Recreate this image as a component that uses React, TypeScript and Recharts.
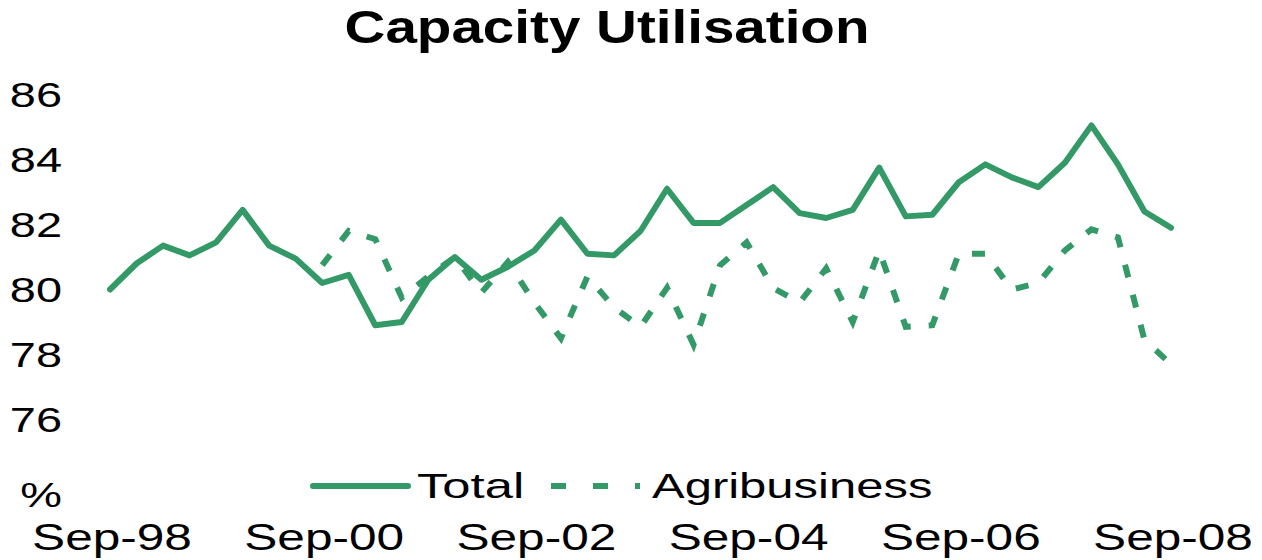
import React from "react";
import { LineChart, Line, XAxis, YAxis } from "recharts";

const categories = [
  "Sep-98", "Dec-98", "Mar-99", "Jun-99", "Sep-99", "Dec-99", "Mar-00", "Jun-00",
  "Sep-00", "Dec-00", "Mar-01", "Jun-01", "Sep-01", "Dec-01", "Mar-02", "Jun-02",
  "Sep-02", "Dec-02", "Mar-03", "Jun-03", "Sep-03", "Dec-03", "Mar-04", "Jun-04",
  "Sep-04", "Dec-04", "Mar-05", "Jun-05", "Sep-05", "Dec-05", "Mar-06", "Jun-06",
  "Sep-06", "Dec-06", "Mar-07", "Jun-07", "Sep-07", "Dec-07", "Mar-08", "Jun-08",
  "Sep-08",
];

const totalValues = [
  80.0, 80.8, 81.35, 81.05, 81.45, 82.45, 81.35, 80.95,
  80.2, 80.45, 78.9, 79.0, 80.3, 81.0, 80.3, 80.7,
  81.2, 82.15, 81.1, 81.05, 81.8, 83.1, 82.05, 82.05,
  82.6, 83.15, 82.35, 82.2, 82.45, 83.75, 82.25, 82.3,
  83.3, 83.85, 83.45, 83.15, 83.9, 85.05, 83.85, 82.4,
  81.9,
];

const agriValues: (number | null)[] = [
  null, null, null, null, null, null, null, null,
  80.75, 81.8, 81.55, 79.75, 80.4, 81.0, 79.9, 80.85,
  79.6, 78.5, 80.4, 79.45, 78.85, 80.05, 78.3, 80.75,
  81.45, 80.05, 79.6, 80.65, 79.0, 81.2, 78.85, 78.9,
  81.1, 81.1, 80.0, 80.2, 81.2, 81.85, 81.6, 78.45,
  77.7,
];

const yTicks = [76, 78, 80, 82, 84, 86];
const seriesNames = ["Total", "Agribusiness"];
const title = "Capacity Utilisation";
const unitLabel = "%";

const GREEN = "#339966";
const FONT = "'Liberation Sans', Arial, sans-serif";
const STRETCH = 1.34;

const data = categories.map((c, i) => ({
  label: c,
  total: totalValues[i],
  agri: agriValues[i],
}));

const YTick = (props: any) => {
  const { x, y, payload } = props;
  return (
    <text
      transform={`translate(${x - 40}, ${y + 12.5}) scale(${STRETCH},1)`}
      textAnchor="end"
      fontSize={35}
      fontFamily={FONT}
      fill="#000"
    >
      {payload.value}
    </text>
  );
};

const XTick = (props: any) => {
  const { x, y, payload } = props;
  return (
    <text
      transform={`translate(${x + 2}, ${y + 122.5}) scale(${STRETCH},1)`}
      textAnchor="middle"
      fontSize={37}
      fontFamily={FONT}
      fill="#000"
    >
      {payload.value}
    </text>
  );
};

export default function App() {
  return (
    <div style={{ position: "absolute", left: 0, top: 0, width: 1262, height: 560, background: "#fff" }}>
      <LineChart
        width={1262}
        height={560}
        data={data}
        margin={{ top: 94.5, right: 91, bottom: 0, left: 0 }}
      >
        <XAxis
          dataKey="label"
          interval={7}
          axisLine={false}
          tickLine={false}
          height={140.5}
          padding={{ left: 0, right: 0 }}
          tick={<XTick />}
        />
        <YAxis
          domain={[76, 86]}
          ticks={yTicks}
          axisLine={false}
          tickLine={false}
          width={110}
          tick={<YTick />}
        />
        <Line
          type="linear"
          dataKey="total"
          name={seriesNames[0]}
          stroke={GREEN}
          strokeWidth={6}
          strokeLinejoin="round"
          strokeLinecap="round"
          dot={false}
          activeDot={false}
          isAnimationActive={false}
        />
        <Line
          type="linear"
          dataKey="agri"
          name={seriesNames[1]}
          stroke={GREEN}
          strokeWidth={6}
          strokeDasharray="13 18"
          strokeLinecap="butt"
          dot={false}
          activeDot={false}
          isAnimationActive={false}
        />
      </LineChart>
      <svg
        width={1262}
        height={560}
        style={{ position: "absolute", left: 0, top: 0, pointerEvents: "none" }}
      >
        <text
          transform={`translate(607, 43) scale(1.23,1)`}
          textAnchor="middle"
          fontSize={46}
          fontWeight="bold"
          fontFamily={FONT}
          fill="#000"
        >
          {title}
        </text>
        <text
          transform={`translate(62, 507) scale(${STRETCH},1)`}
          textAnchor="end"
          fontSize={35}
          fontFamily={FONT}
          fill="#000"
        >
          {unitLabel}
        </text>
        <line x1={313} y1={486} x2={408} y2={486} stroke={GREEN} strokeWidth={6} strokeLinecap="round" />
        <text
          transform={`translate(417, 498) scale(1.45,1)`}
          fontSize={35}
          fontFamily={FONT}
          fill="#000"
        >
          {seriesNames[0]}
        </text>
        <line x1={551} y1={486} x2={640} y2={486} stroke={GREEN} strokeWidth={6} strokeDasharray="15 27" />
        <text
          transform={`translate(652, 498) scale(1.40,1)`}
          fontSize={35}
          fontFamily={FONT}
          fill="#000"
        >
          {seriesNames[1]}
        </text>
      </svg>
    </div>
  );
}
